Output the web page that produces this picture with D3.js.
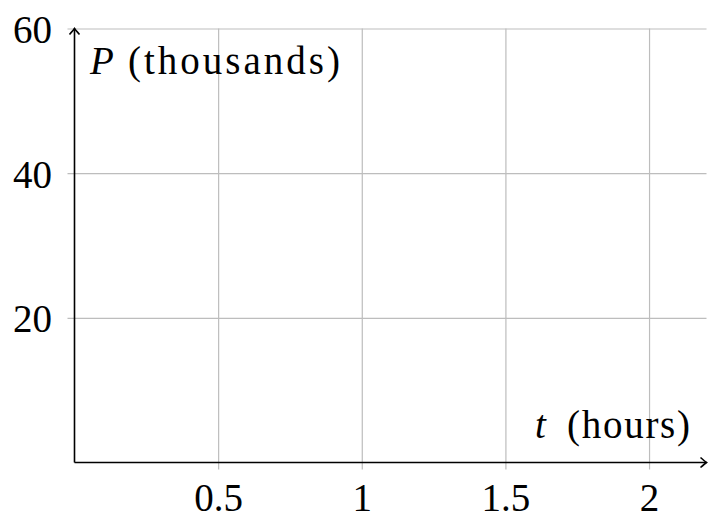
<!DOCTYPE html>
<html>
<head>
<meta charset="utf-8">
<script src="https://cdn.jsdelivr.net/npm/d3@7"></script>
<style>
  body { margin: 0; background: #fff; }
  svg text { font-family: "Liberation Serif", "DejaVu Serif", serif; fill: #000; }
</style>
</head>
<body>
<div id="chart"></div>
<script>
// axis ranges and tick labels
var xDomain = [0, 2.2];
var yDomain = [0, 60];
var xTicks = [0.5, 1, 1.5, 2];
var yTicks = [20, 40, 60];
var xLabel = "(hours)", xVar = "t";
var yLabel = "(thousands)", yVar = "P";

var margin = { top: 28.5, right: 11.5, bottom: 60.5, left: 74.5 };
var width = 718 - margin.left - margin.right;
var height = 523 - margin.top - margin.bottom;

var svg = d3.select("#chart")
    .append("svg")
    .attr("width", 718)
    .attr("height", 523);
var g = svg.append("g")
    .attr("transform", "translate(" + margin.left + "," + margin.top + ")");

var x = d3.scaleLinear().domain(xDomain).range([0, width]);
var y = d3.scaleLinear().domain(yDomain).range([height, 0]);

var gridColor = "#bdbdbd";

// x grid + ticks
var gx = g.append("g")
    .attr("transform", "translate(0," + height + ")")
    .call(d3.axisBottom(x).tickValues(xTicks).tickFormat(d3.format("")));
gx.select(".domain").remove();
gx.selectAll(".tick line")
    .attr("y1", 7)
    .attr("y2", -height)
    .attr("stroke", gridColor)
    .attr("stroke-width", 1.2);
gx.selectAll(".tick text")
    .attr("y", 48.5)
    .attr("dy", 0)
    .attr("font-size", 39)
    .attr("font-family", null);

// y grid + ticks
var gy = g.append("g")
    .call(d3.axisLeft(y).tickValues(yTicks));
gy.select(".domain").remove();
gy.selectAll(".tick line")
    .attr("x1", -7)
    .attr("x2", width)
    .attr("stroke", gridColor)
    .attr("stroke-width", 1.2);
gy.selectAll(".tick text")
    .attr("x", -22.5)
    .attr("dy", "0.36em")
    .attr("font-size", 39)
    .attr("font-family", null);

// axis lines with arrow tips
var axisCol = "#000";
g.append("line")
    .attr("x1", x(0)).attr("y1", y(0))
    .attr("x2", x(xDomain[1])).attr("y2", y(0))
    .attr("stroke", axisCol).attr("stroke-width", 1.6);
g.append("line")
    .attr("x1", x(0)).attr("y1", y(0))
    .attr("x2", x(0)).attr("y2", y(yDomain[1]))
    .attr("stroke", axisCol).attr("stroke-width", 1.6);

var tip = "M-6,-5 Q-1.5,-1 0,0 Q-1.5,1 -6,5";
g.append("path")
    .attr("d", tip)
    .attr("transform", "translate(" + x(xDomain[1]) + "," + y(0) + ")")
    .attr("fill", "none").attr("stroke", axisCol).attr("stroke-width", 1.6);
g.append("path")
    .attr("d", tip)
    .attr("transform", "translate(" + x(0) + "," + y(yDomain[1]) + ") rotate(-90)")
    .attr("fill", "none").attr("stroke", axisCol).attr("stroke-width", 1.6);

// axis labels (serif is narrower than the TeX font, so stretch the spacing a bit)
var yl = g.append("text")
    .attr("y", 45)
    .attr("font-size", 39);
yl.append("tspan").attr("x", 15.5).attr("font-style", "italic").text(yVar);
yl.append("tspan").attr("x", 53.5)
    .attr("textLength", 212).attr("lengthAdjust", "spacing")
    .text(yLabel);

var xl = g.append("text")
    .attr("y", 409)
    .attr("font-size", 39);
xl.append("tspan").attr("x", 460.5).attr("font-style", "italic").text(xVar);
xl.append("tspan").attr("x", 492.5)
    .attr("textLength", 123).attr("lengthAdjust", "spacing")
    .text(xLabel);
</script>
</body>
</html>
